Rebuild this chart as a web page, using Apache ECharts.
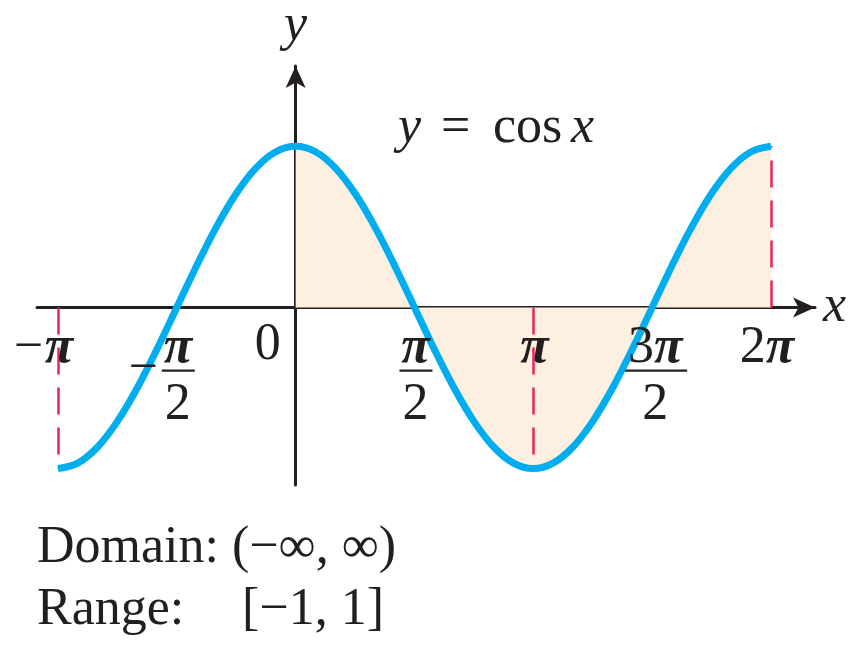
<!DOCTYPE html>
<html>
<head>
<meta charset="utf-8">
<script src="https://cdn.jsdelivr.net/npm/echarts@6/dist/echarts.min.js"></script>
<style>html,body{margin:0;padding:0;background:#fff}#c{width:865px;height:656px}</style>
</head>
<body>
<div id="c"></div>
<script>
// Sample points of the curve y = cos x, x in radians
var curveX = [-3.1416,-2.8798,-2.6180,-2.3562,-2.0944,-1.8326,-1.5708,-1.3090,-1.0472,-0.7854,-0.5236,-0.2618,
  0,0.2618,0.5236,0.7854,1.0472,1.3090,1.5708,1.8326,2.0944,2.3562,2.6180,2.8798,3.1416,
  3.4034,3.6652,3.9270,4.1888,4.4506,4.7124,4.9742,5.2360,5.4978,5.7596,6.0214,6.2832];
var curveY = [-1,-0.966,-0.866,-0.707,-0.5,-0.259,0,0.259,0.5,0.707,0.866,0.966,
  1,0.966,0.866,0.707,0.5,0.259,0,-0.259,-0.5,-0.707,-0.866,-0.966,-1,
  -0.966,-0.866,-0.707,-0.5,-0.259,0,0.259,0.5,0.707,0.866,0.966,1];
// shaded region starts at x = 0
var shadeStartX = 0;
// dashed guide lines: x position and end value
var guideX = [-3.1416, 3.1416, 6.2832];
var guideY = [-1, -1, 1];
// tick labels
var tickValues = [-3.1416, -1.5708, 0, 1.5708, 3.1416, 4.7124, 6.2832];
var tickSign = ['\u2212', '\u2212', '', '', '', '', ''];
var tickTop = ['\u03c0', '\u03c0', '0', '\u03c0', '\u03c0', '3\u03c0', '2\u03c0'];
var tickBottom = ['', '2', '', '2', '', '2', ''];
var titleParts = ['y', '=', 'cos', 'x'];
var domainText = 'Domain: (\u2212\u221e, \u221e)';
var rangeLabel = 'Range:';
var rangeText = '[\u22121, 1]';

var FONT = '"Liberation Serif", "Times New Roman", serif';
var INK = '#231f20';
var FS = 52;

var curveData = curveX.map(function (x, i) { return [x, curveY[i]]; });
var shadeData = curveData.filter(function (d) { return d[0] >= shadeStartX; });
var guideLines = guideX.map(function (x, i) {
  return [{ coord: [x, 0] }, { coord: [x, guideY[i]] }];
});
var tickData = tickValues.map(function (v, i) { return [v, 0, i]; });

function richTop(t) {
  // digit upright, π bold italic
  var s = '';
  for (var k = 0; k < t.length; k++) {
    s += (t[k] === '\u03c0' ? '{p|' : '{d|') + t[k] + '}';
  }
  return s;
}
var richStyles = {
  d: { font: FS + 'px ' + FONT, fill: INK },
  p: { font: 'italic bold ' + FS + 'px ' + FONT, fill: INK }
};

var chart = echarts.init(document.getElementById('c'));
chart.setOption({
  animation: false,
  backgroundColor: '#ffffff',
  grid: { left: 37, right: 50, top: 65, bottom: 171, containLabel: false },
  xAxis: {
    type: 'value', min: -3.419, max: 6.865,
    axisLine: { onZero: true, symbol: ['none', 'arrow'], symbolSize: [15, 22],
      lineStyle: { color: INK, width: 3 } },
    axisTick: { show: false }, axisLabel: { show: false }, splitLine: { show: false },
    name: 'x', nameLocation: 'end', nameGap: 8,
    nameTextStyle: { fontFamily: FONT, fontStyle: 'italic', fontSize: FS, color: INK, verticalAlign: 'middle', padding: [0, 0, 8, 0] }
  },
  yAxis: {
    type: 'value', min: -1.102, max: 1.498,
    axisLine: { onZero: true, symbol: ['none', 'arrow'], symbolSize: [15, 22],
      lineStyle: { color: INK, width: 3 } },
    axisTick: { show: false }, axisLabel: { show: false }, splitLine: { show: false },
    name: 'y', nameLocation: 'end', nameGap: 14,
    nameTextStyle: { fontFamily: FONT, fontStyle: 'italic', fontSize: FS, color: INK, align: 'center' }
  },
  series: [
    {
      type: 'line', data: shadeData, smooth: 0.35, symbol: 'none', z: 1,
      lineStyle: { width: 0, opacity: 0 },
      areaStyle: { color: '#fdf0e1', opacity: 1, origin: 0 },
      silent: true
    },
    {
      type: 'line', data: curveData, smooth: 0.35, symbol: 'none', z: 5,
      lineStyle: { color: '#00aeef', width: 7 },
      markLine: {
        silent: true, symbol: ['none', 'none'], label: { show: false },
        lineStyle: { color: '#e8265a', width: 2.5, type: [27, 13] },
        data: guideLines, z: 3
      }
    },
    {
      type: 'custom', data: tickData, z: 10, silent: true,
      renderItem: function (params, api) {
        var i = api.value(2);
        var p = api.coord([api.value(0), api.value(1)]);
        var top = tickTop[i], bot = tickBottom[i], sign = tickSign[i];
        var children = [];
        var txt = function (t, x, y, align) {
          return { type: 'text', style: { text: t, x: x, y: y, align: align, verticalAlign: 'middle',
            font: FS + 'px ' + FONT, fill: INK } };
        };
        var topText = function (x, y) {
          return { type: 'text', style: { text: richTop(top), x: x, y: y, align: 'center',
            verticalAlign: 'middle', rich: richStyles } };
        };
        if (top === '0') {
          children.push(txt('0', p[0] - 28, p[1] + 38, 'center'));
        } else if (bot) {
          var barW = top.length > 1 ? 62 : 33;
          children.push(topText(p[0] + (top.length > 1 ? 3 : 1), p[1] + 41));
          children.push({ type: 'rect', shape: { x: p[0] - barW / 2 + (top.length > 1 ? 4 : 1.5), y: p[1] + 62, width: barW, height: 2.4 },
            style: { fill: INK } });
          children.push(txt(bot, p[0] + (top.length > 1 ? 3 : 1), p[1] + 98, 'center'));
          if (sign) children.push(txt(sign, p[0] - 19, p[1] + 62, 'right'));
        } else {
          children.push(topText(p[0] + (top.length > 1 ? -4 : 1), p[1] + 41));
          if (sign) children.push(txt(sign, p[0] - 15, p[1] + 41, 'right'));
        }
        return { type: 'group', children: children };
      }
    }
  ],
  graphic: [
    { type: 'text', left: 398, top: 102, z: 20,
      style: { text: titleParts[0], font: 'italic ' + FS + 'px ' + FONT, fill: INK } },
    { type: 'text', left: 441, top: 102, z: 20,
      style: { text: titleParts[1], font: FS + 'px ' + FONT, fill: INK } },
    { type: 'text', left: 493, top: 102, z: 20,
      style: { text: titleParts[2], font: FS + 'px ' + FONT, fill: INK } },
    { type: 'text', left: 571, top: 102, z: 20,
      style: { text: titleParts[3], font: 'italic ' + FS + 'px ' + FONT, fill: INK } },
    { type: 'text', left: 37, top: 522, z: 20,
      style: { text: domainText, font: FS + 'px ' + FONT, fill: INK } },
    { type: 'text', left: 37, top: 584, z: 20,
      style: { text: rangeLabel, font: FS + 'px ' + FONT, fill: INK } },
    { type: 'text', left: 242, top: 584, z: 20,
      style: { text: rangeText, font: FS + 'px ' + FONT, fill: INK } }
  ]
});
</script>
</body>
</html>
